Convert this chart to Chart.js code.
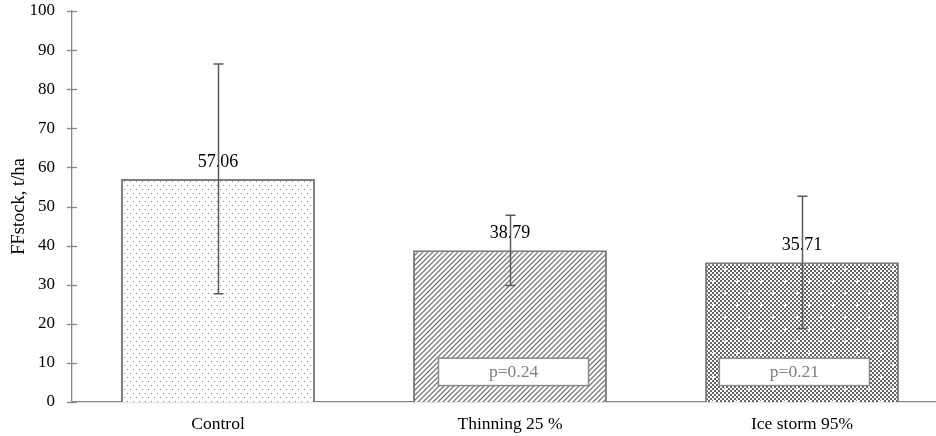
<!DOCTYPE html>
<html>
<head>
<meta charset="utf-8">
<script src="https://cdn.jsdelivr.net/npm/chart.js@4/dist/chart.umd.min.js"></script>
<style>
  html, body { margin: 0; padding: 0; overflow: hidden; background: #fff; }
  canvas { display: block; }
</style>
</head>
<body>
<canvas id="chart" width="950" height="436"></canvas>
<script>
// Forest-floor stock by treatment (t/ha), with standard deviation and p-values
const categories = ['Control', 'Thinning 25 %', 'Ice storm 95%'];
const stockMeans = [57.06, 38.79, 35.71];
const stockErrors = [29.4, 9.0, 16.9];
const pValueLabels = [null, 'p=0.24', 'p=0.21'];
const yTickValues = [0, 10, 20, 30, 40, 50, 60, 70, 80, 90, 100];

const SERIF = '"Liberation Serif", "Times New Roman", serif';
const AXIS_GREY = '#868686';

const canvas = document.getElementById('chart');
const mainCtx = canvas.getContext('2d');

function makePattern(w, h, draw) {
  const tile = document.createElement('canvas');
  tile.width = w;
  tile.height = h;
  const g = tile.getContext('2d');
  g.fillStyle = '#ffffff';
  g.fillRect(0, 0, w, h);
  draw(g);
  return mainCtx.createPattern(tile, 'repeat');
}

// sparse dots
const dotFill = makePattern(6, 8, g => {
  g.fillStyle = '#8a8a8a';
  g.fillRect(1, 1, 1, 1);
  g.fillRect(4, 5, 1, 1);
});

// upward diagonal hatching
const hatchFill = makePattern(5, 5, g => {
  g.strokeStyle = '#7c7c7c';
  g.lineWidth = 1.3;
  g.beginPath();
  g.moveTo(-1, 6); g.lineTo(6, -1);
  g.moveTo(-1, 1); g.lineTo(1, -1);
  g.moveTo(4, 6); g.lineTo(6, 4);
  g.stroke();
});

// fine checkerboard with small light spots
const checkerFill = makePattern(24, 24, g => {
  g.fillStyle = '#666666';
  for (let y = 0; y < 24; y += 2) {
    for (let x = 0; x < 24; x += 2) {
      if (((x + y) / 2) % 2 === 0) g.fillRect(x, y, 2, 2);
    }
  }
  g.fillStyle = '#ffffff';
  [[5, 5], [17, 17]].forEach(([cx, cy]) => {
    g.fillRect(cx - 1, cy, 3, 1);
    g.fillRect(cx, cy - 1, 1, 3);
  });
});

// tick marks crossing the value axis, and the zero tick extending the category axis
const axisTicks = {
  id: 'axisTicks',
  afterDraw(chart) {
    const { ctx, scales: { y } } = chart;
    const x0 = chart.chartArea.left;
    ctx.save();
    ctx.strokeStyle = AXIS_GREY;
    ctx.lineWidth = 1.3;
    yTickValues.forEach(v => {
      const py = Math.round(y.getPixelForValue(v)) + 0.5;
      ctx.beginPath();
      ctx.moveTo(x0 - 5, py);
      ctx.lineTo(x0 + 5, py);
      ctx.stroke();
    });
    ctx.restore();
  }
};

// value labels, p-value boxes and error bars
const annotations = {
  id: 'annotations',
  afterDatasetsDraw(chart) {
    const { ctx, scales: { x, y } } = chart;
    const meta = chart.getDatasetMeta(0);
    ctx.save();

    // p-value boxes
    const boxShift = [0, 0.012, -0.026];
    pValueLabels.forEach((label, i) => {
      if (!label) return;
      const cx = x.getPixelForValue(i + boxShift[i]);
      const halfW = x.getPixelForValue(0.257) - x.getPixelForValue(0);
      const top = y.getPixelForValue(11.2);
      const bottom = y.getPixelForValue(4.2);
      ctx.fillStyle = '#ffffff';
      ctx.fillRect(cx - halfW, top, 2 * halfW, bottom - top);
      ctx.strokeStyle = '#8a8a8a';
      ctx.lineWidth = 1.5;
      ctx.strokeRect(cx - halfW, top, 2 * halfW, bottom - top);
      ctx.fillStyle = '#7f7f7f';
      ctx.font = '17.5px ' + SERIF;
      ctx.textAlign = 'center';
      ctx.textBaseline = 'middle';
      ctx.fillText(label, cx, (top + bottom) / 2 + 1);
    });

    // value labels above the bars
    ctx.fillStyle = '#000000';
    ctx.font = '18px ' + SERIF;
    ctx.textAlign = 'center';
    ctx.textBaseline = 'alphabetic';
    meta.data.forEach((bar, i) => {
      ctx.fillText(stockMeans[i].toFixed(2), bar.x, y.getPixelForValue(stockMeans[i]) - 12);
    });

    // error bars
    ctx.strokeStyle = '#5a5a5a';
    ctx.lineWidth = 1.5;
    meta.data.forEach((bar, i) => {
      const px = Math.round(bar.x) + 0.5;
      const hi = y.getPixelForValue(stockMeans[i] + stockErrors[i]);
      const lo = y.getPixelForValue(stockMeans[i] - stockErrors[i]);
      ctx.beginPath();
      ctx.moveTo(px, hi); ctx.lineTo(px, lo);
      ctx.moveTo(px - 5, hi); ctx.lineTo(px + 5, hi);
      ctx.moveTo(px - 5, lo); ctx.lineTo(px + 5, lo);
      ctx.stroke();
    });
    ctx.restore();
  }
};

new Chart(canvas, {
  type: 'bar',
  data: {
    labels: categories,
    datasets: [{
      data: stockMeans,
      backgroundColor: [dotFill, hatchFill, checkerFill],
      borderColor: '#7f7f7f',
      borderWidth: 2,
      barPercentage: 0.664,
      categoryPercentage: 1.0
    }]
  },
  options: {
    responsive: false,
    animation: false,
    events: [],
    layout: { padding: { top: 11, right: 2, bottom: 0, left: 0 } },
    plugins: {
      legend: { display: false },
      tooltip: { enabled: false }
    },
    scales: {
      x: {
        grid: { display: false, drawTicks: false },
        border: { display: true, color: AXIS_GREY, width: 1.3 },
        ticks: { color: '#000000', font: { family: SERIF, size: 17.5 }, padding: 12, maxRotation: 0 },
        afterFit: s => { s.height = 34; s.paddingLeft = 0; s.paddingRight = 0; }
      },
      y: {
        min: 0,
        max: 100,
        grid: { display: false, drawTicks: false },
        border: { display: true, color: AXIS_GREY, width: 1.3 },
        ticks: { stepSize: 10, color: '#000000', font: { family: SERIF, size: 17 }, padding: 17 },
        title: {
          display: true,
          text: 'FFstock, t/ha',
          color: '#000000',
          font: { family: SERIF, size: 18.5 },
          padding: { top: 8, bottom: 0 }
        },
        afterFit: s => { s.width = 72; s.paddingTop = 0; s.paddingBottom = 0; }
      }
    }
  },
  plugins: [axisTicks, annotations]
});
</script>
</body>
</html>
